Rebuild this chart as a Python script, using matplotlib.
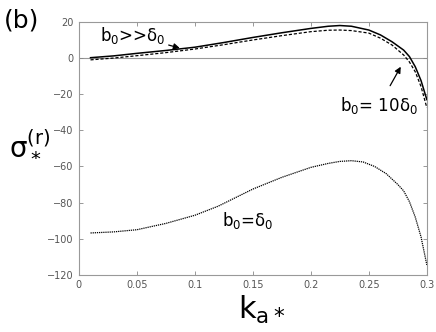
import matplotlib
matplotlib.use("Agg")
import matplotlib.pyplot as plt

# Data
k_upper = [0.01, 0.03, 0.05, 0.075, 0.1, 0.125, 0.15, 0.175, 0.2, 0.215, 0.225, 0.235, 0.25, 0.26, 0.27, 0.28, 0.285, 0.29, 0.295, 0.3]
sigma_far = [0.2, 1.2, 2.6, 4.2, 6.0, 8.6, 11.4, 14.0, 16.4, 17.6, 18.0, 17.6, 15.5, 12.8, 9.0, 4.4, 0.8, -4.8, -12.5, -23.0]
sigma_10 = [-1.0, 0.0, 1.3, 3.0, 5.0, 7.4, 10.0, 12.4, 14.6, 15.4, 15.5, 15.2, 13.8, 11.0, 7.2, 1.7, -2.2, -7.6, -15.8, -27.5]

k_lower = [0.01, 0.03, 0.05, 0.075, 0.1, 0.12, 0.15, 0.175, 0.2, 0.215, 0.225, 0.235, 0.245, 0.255, 0.265, 0.275, 0.28, 0.285, 0.29, 0.295, 0.3]
sigma_eq = [-96.8, -96.2, -95.0, -91.5, -87.0, -82.0, -72.5, -66.0, -60.5, -58.3, -57.2, -56.8, -57.5, -60.0, -64.0, -70.0, -73.5, -79.5, -88.0, -99.0, -114.5]

x_ticks = [0, 0.05, 0.1, 0.15, 0.2, 0.25, 0.3]
x_ticklabels = ["0", "0.05", "0.1", "0.15", "0.2", "0.25", "0.3"]
y_ticks = [20, 0, -20, -40, -60, -80, -100, -120]

fig = plt.figure(figsize=(4.36, 3.32), dpi=100)
ax = fig.add_axes([0.181, 0.172, 0.798, 0.762])

ax.axhline(0, color="#999999", lw=0.8, zorder=1)
ax.plot(k_upper, sigma_far, color="black", lw=1.1, ls="-", zorder=3)
ax.plot(k_upper, sigma_10, color="black", lw=0.9, ls=(0, (2.5, 1.5)), zorder=3)
ax.plot(k_lower, sigma_eq, color="black", lw=0.9, ls=(0, (1, 0.7)), zorder=3)

ax.set_xlim(0, 0.3)
ax.set_ylim(-120, 20)
ax.set_xticks(x_ticks)
ax.set_xticklabels(x_ticklabels)
ax.set_yticks(y_ticks)
ax.tick_params(direction="in", length=3, width=0.6, colors="#888888",
               labelcolor="#555555", labelsize=7, top=True, right=True, pad=4)
for s in ax.spines.values():
    s.set_color("#999999")
    s.set_linewidth(0.8)

fig.text(0.01, 0.937, "(b)", fontsize=18, ha="left", va="center")
fig.text(0.069, 0.567, r"$\mathrm{\sigma}_*^{\mathrm{(r)}}$", fontsize=20, ha="center", va="center")
fig.text(0.599, 0.066, r"$\mathrm{k_{a*}}$", fontsize=22, ha="center", va="center")

ax.annotate(r"$\mathrm{b_0}$>>$\mathrm{\delta_0}$", xy=(0.087, 5.5), xytext=(0.075, 12.6),
            fontsize=12, ha="right", va="center",
            arrowprops=dict(arrowstyle="-|>", color="black", lw=0.9, mutation_scale=9,
                            shrinkA=0, shrinkB=0))
ax.annotate(r"$\mathrm{b_0}$= 10$\mathrm{\delta_0}$", xy=(0.2775, -4.8), xytext=(0.259, -26.0),
            fontsize=12, ha="center", va="center",
            arrowprops=dict(arrowstyle="-|>", color="black", lw=0.9, mutation_scale=9,
                            shrinkA=5, shrinkB=0))
ax.text(0.1457, -90, r"$\mathrm{b_0}$=$\mathrm{\delta_0}$", fontsize=12, ha="center", va="center")

fig.savefig("out.png", dpi=100)
